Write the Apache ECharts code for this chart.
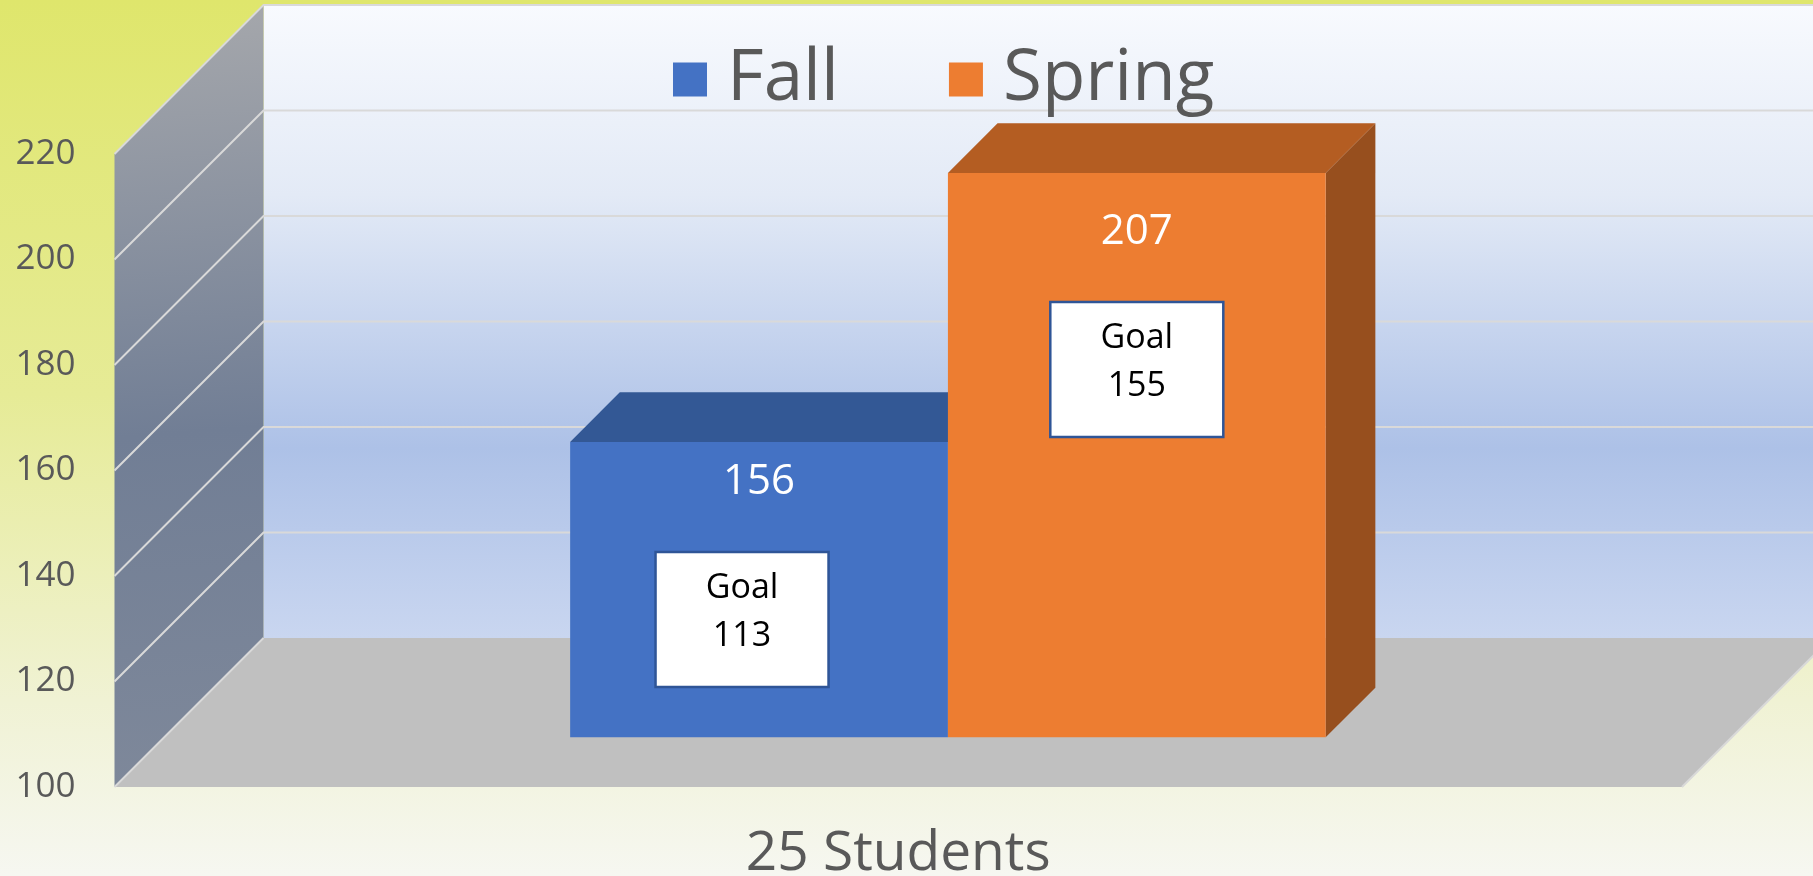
<!DOCTYPE html>
<html>
<head>
<meta charset="utf-8">
<script src="https://cdn.jsdelivr.net/npm/echarts@6/dist/echarts.min.js"></script>
<style>
  html, body { margin: 0; padding: 0; }
  #chart { width: 1813px; height: 876px; }
</style>
</head>
<body>
<div id="chart"></div>
<script>
// 数据
const categories = ['25 Students'];
const seriesNames = ['Fall', 'Spring'];
const fallScores = [156];
const springScores = [207];
const fallGoals = [113];
const springGoals = [155];
const yTicks = [100, 120, 140, 160, 180, 200, 220];

// 伪 3D 外观
const DEPTH = 149;          // 墙/地板纵深 (px, 45°)
const BAR_SHARE = 0.241;    // 单根柱宽 / 类目宽
const FONT = '"Open Sans", "Noto Sans", sans-serif';
const barLook = {
  Fall:   { front: '#4472C4', top: '#335895', side: '#2F528F', left: true,  labelDy: 40, boxDx: -17 },
  Spring: { front: '#ED7D31', top: '#B45D22', side: '#974F1E', left: false, labelDy: 59, boxDx: 0 },
};

const grad = (stops, x2 = 0, y2 = 1) =>
  new echarts.graphic.LinearGradient(0, 0, x2, y2, stops.map(([o, c]) => ({ offset: o, color: c })));

// 背墙、侧墙、地板和网格线，按 y 轴刻度画
function renderWalls(params, api) {
  const cs = params.coordSys;
  const L = cs.x, R = cs.x + cs.width, D = DEPTH;
  const yBot = api.coord([0, yTicks[0]])[1];
  const yTop = api.coord([0, yTicks[yTicks.length - 1]])[1];
  const edge = { stroke: '#D9D9D9', lineWidth: 2, fill: null };
  const children = [
    { type: 'rect', shape: { x: L + D, y: yTop - D, width: R - L, height: yBot - yTop },
      style: { fill: grad([[0, '#F8FAFE'], [0.3, '#E3EAF6'], [0.7, '#ADC1E7'], [1, '#C9D6F0']]) } },
    { type: 'polygon', shape: { points: [[L, yTop], [L + D, yTop - D], [L + D, yBot - D], [L, yBot]] },
      style: { fill: grad([[0, '#A6A8AC'], [0.55, '#717E95'], [1, '#7E889A']], 0.4, 1) } },
    { type: 'polygon', shape: { points: [[L, yBot], [L + D, yBot - D], [R + D, yBot - D], [R, yBot]] },
      style: { fill: '#C0C0C0' } },
  ];
  yTicks.slice(1).forEach(v => {
    const y = api.coord([0, v])[1];
    children.push({ type: 'polyline', shape: { points: [[L, y], [L + D, y - D], [R + D, y - D]] }, style: edge });
  });
  children.push({ type: 'line', shape: { x1: L, y1: yBot, x2: L + D, y2: yBot - D }, style: edge });
  children.push({ type: 'line', shape: { x1: R, y1: yBot, x2: R + D, y2: yBot - D }, style: edge });
  return { type: 'group', children };
}

// 立体柱 + 数值 + Goal 框
function renderBar(params, api) {
  const look = barLook[seriesNames[params.seriesIndex - 1]];
  const value = api.value(1), goal = api.value(2);
  const [cx, yVal] = api.coord([api.value(0), value]);
  const yBase = api.coord([api.value(0), yTicks[0]])[1];
  const w = api.size([1, 0])[0] * BAR_SHARE;
  const d0 = DEPTH / 3, d = DEPTH / 3;
  const x0 = (look.left ? cx - w : cx) + d0, x1 = x0 + w;
  const yt = yVal - d0, yb = yBase - d0;
  const mid = (x0 + x1) / 2;
  const labelY = yt + look.labelDy;
  const boxW = 173, boxH = 135, boxTop = labelY + 70, boxX = mid + look.boxDx - boxW / 2;
  return {
    type: 'group',
    children: [
      { type: 'polygon', shape: { points: [[x1, yt], [x1 + d, yt - d], [x1 + d, yb - d], [x1, yb]] }, style: { fill: look.side } },
      { type: 'polygon', shape: { points: [[x0, yt], [x0 + d, yt - d], [x1 + d, yt - d], [x1, yt]] }, style: { fill: look.top } },
      { type: 'rect', shape: { x: x0, y: yt, width: w, height: yb - yt }, style: { fill: look.front } },
      { type: 'text', style: { text: String(value), x: mid, y: labelY, fill: '#FFFFFF',
          fontSize: 42, fontFamily: FONT, align: 'center', verticalAlign: 'middle' } },
      { type: 'rect', shape: { x: boxX, y: boxTop, width: boxW, height: boxH },
        style: { fill: '#FFFFFF', stroke: '#2F5597', lineWidth: 2.5 } },
      { type: 'text', style: { text: 'Goal\n' + goal, x: boxX + boxW / 2, y: boxTop + boxH / 2 - 7, fill: '#000000',
          fontSize: 34, lineHeight: 48, fontFamily: FONT, align: 'center', verticalAlign: 'middle' } },
    ],
  };
}

const chart = echarts.init(document.getElementById('chart'));
chart.setOption({
  animation: false,
  backgroundColor: grad([[0, '#DFE66C'], [0.45, '#E6EB96'], [0.8, '#F0F2D4'], [1, '#F6F7F1']]),
  legend: {
    data: seriesNames,
    left: 668, top: 39,
    icon: 'rect', itemWidth: 34, itemHeight: 34, itemGap: 110,
    textStyle: { fontSize: 71, color: '#595959', fontFamily: FONT, padding: [0, 0, 0, 15] },
  },
  grid: { left: 114.5, right: 131, top: 154, bottom: 89, outerBoundsMode: 'none' },
  xAxis: {
    type: 'category', data: categories,
    axisLine: { show: false }, axisTick: { show: false }, splitLine: { show: false },
    axisLabel: { fontSize: 55, color: '#595959', fontFamily: FONT, margin: 40 },
  },
  yAxis: {
    type: 'value', min: yTicks[0], max: yTicks[yTicks.length - 1], interval: yTicks[1] - yTicks[0],
    axisLine: { show: false }, axisTick: { show: false }, splitLine: { show: false },
    axisLabel: { fontSize: 35, color: '#595959', fontFamily: FONT, margin: 39 },
  },
  series: [
    { type: 'custom', name: 'walls', renderItem: renderWalls, data: [[0, yTicks[0]]], clip: false, z: 1, silent: true },
    { type: 'custom', name: 'Fall', renderItem: renderBar, clip: false, z: 2,
      itemStyle: { color: barLook.Fall.front }, encode: { x: 0, y: 1 },
      data: fallScores.map((v, i) => [i, v, fallGoals[i]]) },
    { type: 'custom', name: 'Spring', renderItem: renderBar, clip: false, z: 3,
      itemStyle: { color: barLook.Spring.front }, encode: { x: 0, y: 1 },
      data: springScores.map((v, i) => [i, v, springGoals[i]]) },
  ],
});
window.addEventListener('resize', () => chart.resize());
</script>
</body>
</html>
